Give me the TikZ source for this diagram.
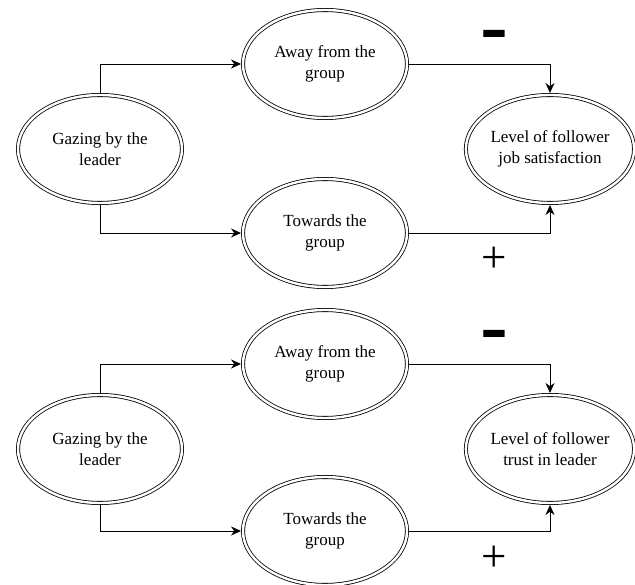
\documentclass[tikz,border=0pt]{standalone}
\usepackage{fontspec}
\usepackage{graphicx}
\setmainfont{Liberation Serif}
\newfontfamily\signfont{Liberation Sans}
\usetikzlibrary{shapes.geometric,arrows.meta}
\begin{document}
\begin{tikzpicture}[x=1pt,y=-1pt,
  oval/.style={ellipse, draw, double, double distance=2.4pt, line width=0.8pt,
    minimum width=164pt, minimum height=108pt, inner sep=0pt, outer sep=2pt,
    align=center, font=\fontsize{17}{21}\selectfont},
  conn/.style={line width=0.8pt, -{Stealth[length=10pt,width=9pt]}},
  minus/.style={font=\signfont\bfseries\fontsize{60}{60}\selectfont, inner sep=0pt},
  plus/.style={font=\fontsize{45}{45}\selectfont, inner sep=0pt}]
\useasboundingbox (0,0) rectangle (635,585);
% top panel
\node[oval] (g1) at (100,149) {Gazing by the\\leader};
\node[oval] (a1) at (325,64) {Away from the\\group};
\node[oval] (t1) at (325,233) {Towards the\\group};
\node[oval] (l1) at (550,149) {Level of follower\\job satisfaction};
\draw[conn] (g1.north) |- (a1.west);
\draw[conn] (g1.south) |- (t1.west);
\draw[conn] (a1.east) -| (l1.north);
\draw[conn] (t1.east) -| (l1.south);
\node[minus] (m1) at (494,40) {\scalebox{1.4}[1]{-}};
\node[plus] (p1) at (494,260) {+};
% bottom panel
\node[oval] (g2) at (100,449) {Gazing by the\\leader};
\node[oval] (a2) at (325,364) {Away from the\\group};
\node[oval] (t2) at (325,531) {Towards the\\group};
\node[oval] (l2) at (550,449) {Level of follower\\trust in leader};
\draw[conn] (g2.north) |- (a2.west);
\draw[conn] (g2.south) |- (t2.west);
\draw[conn] (a2.east) -| (l2.north);
\draw[conn] (t2.east) -| (l2.south);
\node[minus] (m2) at (494,340) {\scalebox{1.4}[1]{-}};
\node[plus] (p2) at (494,559) {+};
\end{tikzpicture}
\end{document}
